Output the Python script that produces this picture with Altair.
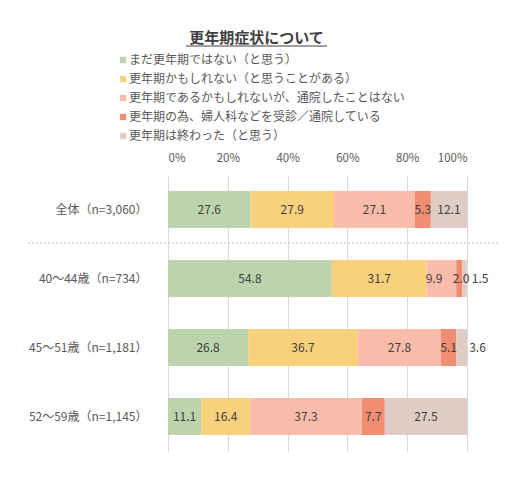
import altair as alt
import pandas as pd

groups = ["全体（n=3,060）", "40～44歳（n=734）", "45～51歳（n=1,181）", "52～59歳（n=1,145）"]
categories = [
    "まだ更年期ではない（と思う）",
    "更年期かもしれない（と思うことがある）",
    "更年期であるかもしれないが、通院したことはない",
    "更年期の為、婦人科などを受診／通院している",
    "更年期は終わった（と思う）",
]
colors = ["#bcd3ae", "#f9d07b", "#f9bcaa", "#f18e71", "#dfccc4"]

not_yet = [27.6, 54.8, 26.8, 11.1]
maybe = [27.9, 31.7, 36.7, 16.4]
no_visit = [27.1, 9.9, 27.8, 37.3]
visiting = [5.3, 2.0, 5.1, 7.7]
finished = [12.1, 1.5, 3.6, 27.5]

series = [not_yet, maybe, no_visit, visiting, finished]
rows = []
for i, cat in enumerate(categories):
    for g, v in zip(groups, series[i]):
        rows.append({"group": g, "cat": cat, "idx": i, "value": v})
df = pd.DataFrame(rows)

FONT = "Noto Sans CJK JP"

# labels are centred, except where small neighbours would collide (Excel nudges them apart)
label_x = (
    "datum.idx == 4 && datum.value < 2 ? datum.x1 + 4.5"
    " : datum.idx == 4 && datum.value < 5 ? datum.x1 + 3.5"
    " : datum.idx == 3 && datum.value < 3 ? (datum.x0 + datum.x1) / 2 + 0.6"
    " : datum.idx == 2 && datum.value < 10 ? (datum.x0 + datum.x1) / 2 - 2.5"
    " : (datum.x0 + datum.x1) / 2"
)

base = alt.Chart(df).transform_stack(
    stack="value", groupby=["group"], sort=[alt.SortField("idx")], as_=["x0", "x1"]
).transform_calculate(lx=label_x)

y_enc = alt.Y(
    "group:N",
    sort=groups,
    title=None,
    scale=alt.Scale(paddingInner=0.464, paddingOuter=0.232),
    axis=alt.Axis(domain=False, ticks=False, grid=False, labelPadding=21,
                  labelFontSize=12, labelColor="#595959", labelFont=FONT),
)

bars = base.mark_bar().encode(
    x=alt.X(
        "x0:Q",
        scale=alt.Scale(domain=[0, 100]),
        title=None,
        axis=alt.Axis(orient="top", values=[0, 20, 40, 60, 80, 100],
                      labelExpr="datum.value + '%'", domain=False, ticks=False,
                      gridColor="#d9d9d9", labelPadding=12, labelFontSize=11.5,
                      labelColor="#595959", labelFont=FONT),
    ),
    x2="x1:Q",
    y=y_enc,
    color=alt.Color(
        "cat:N",
        sort=categories,
        scale=alt.Scale(domain=categories, range=colors),
        legend=alt.Legend(
            title=None, orient="none", legendX=-51, legendY=-121,
            symbolType="square", symbolSize=40, symbolStrokeWidth=0,
            labelFontSize=12, labelColor="#595959", labelFont=FONT,
            rowPadding=7, labelOffset=0, labelLimit=400,
        ),
    ),
)

labels = base.mark_text(fontSize=12, color="#404040", font=FONT).encode(
    x=alt.X("lx:Q"),
    y=alt.Y("group:N", sort=groups),
    text=alt.Text("value:Q", format=".1f"),
)

separator = alt.Chart(pd.DataFrame({"a": [0]})).mark_rule(
    color="#bfbfbf", strokeDash=[2, 2], strokeWidth=1
).encode(x=alt.value(-140), x2=alt.value(332), y=alt.value(68))

underline = alt.Chart(pd.DataFrame({"a": [0]})).mark_rule(
    color="#404040", strokeWidth=1.2
).encode(x=alt.value(18), x2=alt.value(159), y=alt.value(-129))

chart = alt.layer(bars, labels, separator, underline).properties(
    width=299,
    height=276,
    autosize=alt.AutoSizeParams(type="none"),
    padding={"left": 160, "top": 167, "right": 46, "bottom": 20},
    title=alt.TitleParams(
        "更年期症状について", anchor="middle", dx=-61, dy=5, fontSize=15,
        font=FONT, fontWeight="bold", color="#404040",
    ),
).configure_view(stroke=None)

chart.save("out.html", embed_options={"renderer": "svg", "actions": False})
